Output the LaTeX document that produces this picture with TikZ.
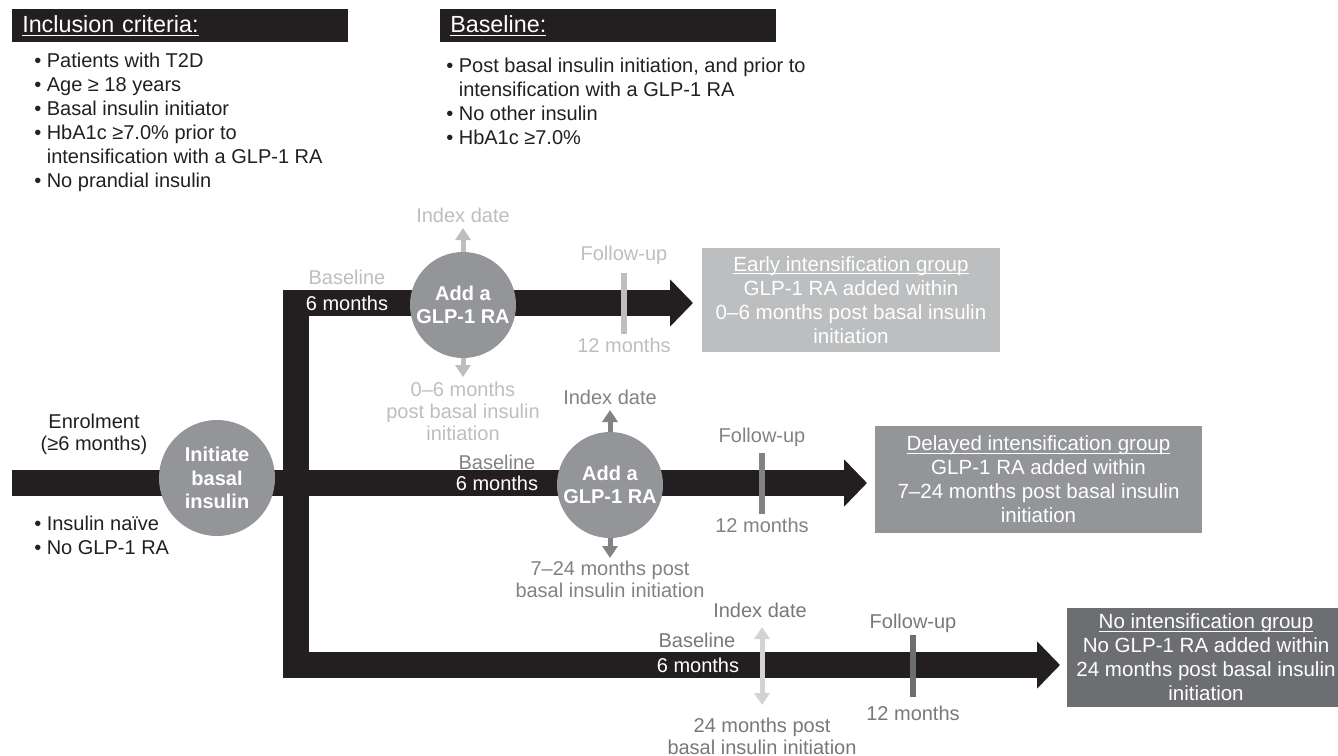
\documentclass[tikz,border=0pt]{standalone}
\usepackage{fontspec}
\setmainfont{Liberation Sans}
\usetikzlibrary{arrows.meta}
\definecolor{barblack}{HTML}{231F20}
\definecolor{circgrey}{HTML}{939598}
\definecolor{lightgrey}{HTML}{BCBEC0}
\definecolor{midgrey}{HTML}{808285}
\definecolor{darkgrey}{HTML}{6D6E71}
\definecolor{botgrey}{HTML}{77787B}
\definecolor{palegrey}{HTML}{D1D3D4}
\newsavebox{\myulbox}
\newcommand{\myul}[1]{\sbox{\myulbox}{#1}\rlap{\rule[-2.2pt]{\wd\myulbox}{0.75pt}}\usebox{\myulbox}}
\begin{document}
\begin{tikzpicture}[x=0.75pt, y=-0.75pt,
 bar/.style={draw=barblack, line width=19.5pt, line cap=butt},
 barhead/.style={-{Triangle[length=17.25pt,width=34.5pt]}},
 tick/.style={line width=4.5pt},
 smallarr/.style={line width=3.75pt, -{Triangle[length=9pt,width=11.25pt]}},
 dblarr/.style={line width=3.75pt, {Triangle[length=9pt,width=11.25pt]}-{Triangle[length=9pt,width=11.25pt]}},
 circ/.style={circle, fill=circgrey, text=white, align=center, inner sep=0pt, font=\fontsize{15}{17.5}\selectfont\bfseries},
 lbl/.style={align=center, inner sep=0pt, font=\fontsize{15}{16.5}\selectfont},
 hdr/.style={fill=barblack, text=white, anchor=north west, minimum height=24.75pt, inner xsep=7.5pt, inner ysep=0pt, align=left, font=\fontsize{17.5}{21}\selectfont},
 blist/.style={anchor=north west, align=left, inner sep=0pt, font=\fontsize{15}{18}\selectfont, text=barblack},
 grpbox/.style={inner sep=0pt},
 grp/.style={text=white, align=center, inner sep=0pt, font=\fontsize{15.4}{18}\selectfont},
]
\useasboundingbox (0,0) rectangle (1338,756);
\clip (0,0) rectangle (1338,756);

% headers and criteria
\node[hdr, text width=237pt] (inchdr) at (12,9) {\myul{Inclusion criteria:}};
\node[hdr, text width=237pt] (basehdr) at (440,9) {\myul{Baseline:}};
\node[blist] (inclist) at (34,53) {•\ Patients with T2D\\
•\ Age ≥ 18 years\\
•\ Basal insulin initiator\\
•\ HbA1c ≥7.0\% prior to\\
\hphantom{•\ }intensification with a GLP-1 RA\\
•\ No prandial insulin};
\node[blist] (baselist) at (446,58) {•\ Post basal insulin initiation, and prior to\\
\hphantom{•\ }intensification with a GLP-1 RA\\
•\ No other insulin\\
•\ HbA1c ≥7.0\%};

% coordinates for the bars
\coordinate (enrS) at (12,483);
\coordinate (midTip) at (867,483);
\coordinate (vTop) at (296,290);
\coordinate (vBot) at (296,678);
\coordinate (topS) at (283,303);
\coordinate (topTip) at (693,303);
\coordinate (botS) at (283,665);
\coordinate (botTip) at (1060,665);

% bars
\draw[bar] (vTop) -- (vBot);
\draw[bar, barhead] (topS) -- (topTip);
\draw[bar, barhead] (enrS) -- (midTip);
\draw[bar, barhead] (botS) -- (botTip);

% ticks
\coordinate (t1a) at (624,273); \coordinate (t1b) at (624,334);
\coordinate (t2a) at (762,453); \coordinate (t2b) at (762,514);
\coordinate (t3a) at (913,635); \coordinate (t3b) at (913,697);
\draw[tick, lightgrey] (t1a) -- (t1b);
\draw[tick, midgrey] (t2a) -- (t2b);
\draw[tick, darkgrey] (t3a) -- (t3b);

% circles
\node[circ, minimum size=87pt] (init) at (217,478) {Initiate\\basal\\insulin};
\node[circ, minimum size=79.5pt] (add1) at (463,305) {Add a\\GLP-1 RA};
\node[circ, minimum size=79.5pt] (add2) at (610,485) {Add a\\GLP-1 RA};

% small arrows
\coordinate (up1) at (463,228); \coordinate (dn1) at (463,377);
\coordinate (up2) at (610,410); \coordinate (dn2) at (610,558);
\coordinate (up3) at (762,627); \coordinate (dn3) at (762,705);
\draw[smallarr, lightgrey] (add1.north) -- (up1);
\draw[smallarr, lightgrey] (add1.south) -- (dn1);
\draw[smallarr, midgrey] (add2.north) -- (up2);
\draw[smallarr, midgrey] (add2.south) -- (dn2);
\draw[dblarr, palegrey] (up3) -- (dn3);

% enrolment
\node[lbl, text=barblack] (enr) at (94,434) {Enrolment\\(≥6 months)};
\node[blist] (enrlist) at (34,516) {•\ Insulin naïve\\•\ No GLP-1 RA};

% top branch labels
\node[lbl, text=lightgrey] (idx1) at (463,215) {Index date};
\node[lbl, text=lightgrey] (bl1) at (347,277) {Baseline};
\node[lbl, text=white] (sm1) at (347,303) {6 months};
\node[lbl, text=lightgrey] (fu1) at (624,255) {Follow-up};
\node[lbl, text=lightgrey] (tw1) at (624,345) {12 months};
\node[lbl, text=lightgrey] (wh1) at (463,411) {0–6 months\\post basal insulin\\initiation};

% middle branch labels
\node[lbl, text=midgrey] (idx2) at (610,397) {Index date};
\node[lbl, text=midgrey] (bl2) at (497,462) {Baseline};
\node[lbl, text=white] (sm2) at (497,483) {6 months};
\node[lbl, text=midgrey] (fu2) at (762,437) {Follow-up};
\node[lbl, text=midgrey] (tw2) at (762,525) {12 months};
\node[lbl, text=midgrey] (wh2) at (610,579) {7–24 months post\\basal insulin initiation};

% bottom branch labels
\node[lbl, text=botgrey] (idx3) at (760,610) {Index date};
\node[lbl, text=botgrey] (bl3) at (697,640) {Baseline};
\node[lbl, text=white] (sm3) at (698,665) {6 months};
\node[lbl, text=botgrey] (fu3) at (913,623) {Follow-up};
\node[lbl, text=botgrey] (tw3) at (913,713) {12 months};
\node[lbl, text=botgrey] (wh3) at (762,736) {24 months post\\basal insulin initiation};

% result boxes
\node[grpbox, fill=lightgrey, minimum width=223.5pt, minimum height=78pt] (early) at (851,300) {};
\node[grp] (earlyt) at (early.center) {\myul{Early intensification group}\\GLP-1 RA added within\\0–6 months post basal insulin\\initiation};
\node[grpbox, fill=circgrey, minimum width=245pt, minimum height=80pt] (delayed) at (1038.5,479.5) {};
\node[grp] (delayedt) at (delayed.center) {\myul{Delayed intensification group}\\GLP-1 RA added within\\7–24 months post basal insulin\\initiation};
\node[grpbox, fill=darkgrey, minimum width=222pt, minimum height=74.25pt] (noint) at (1215,657.5) {};
\node[grp] (nointt) at (1206,657.5) {\myul{No intensification group}\\No GLP-1 RA added within\\24 months post basal insulin\\initiation};
\end{tikzpicture}
\end{document}
